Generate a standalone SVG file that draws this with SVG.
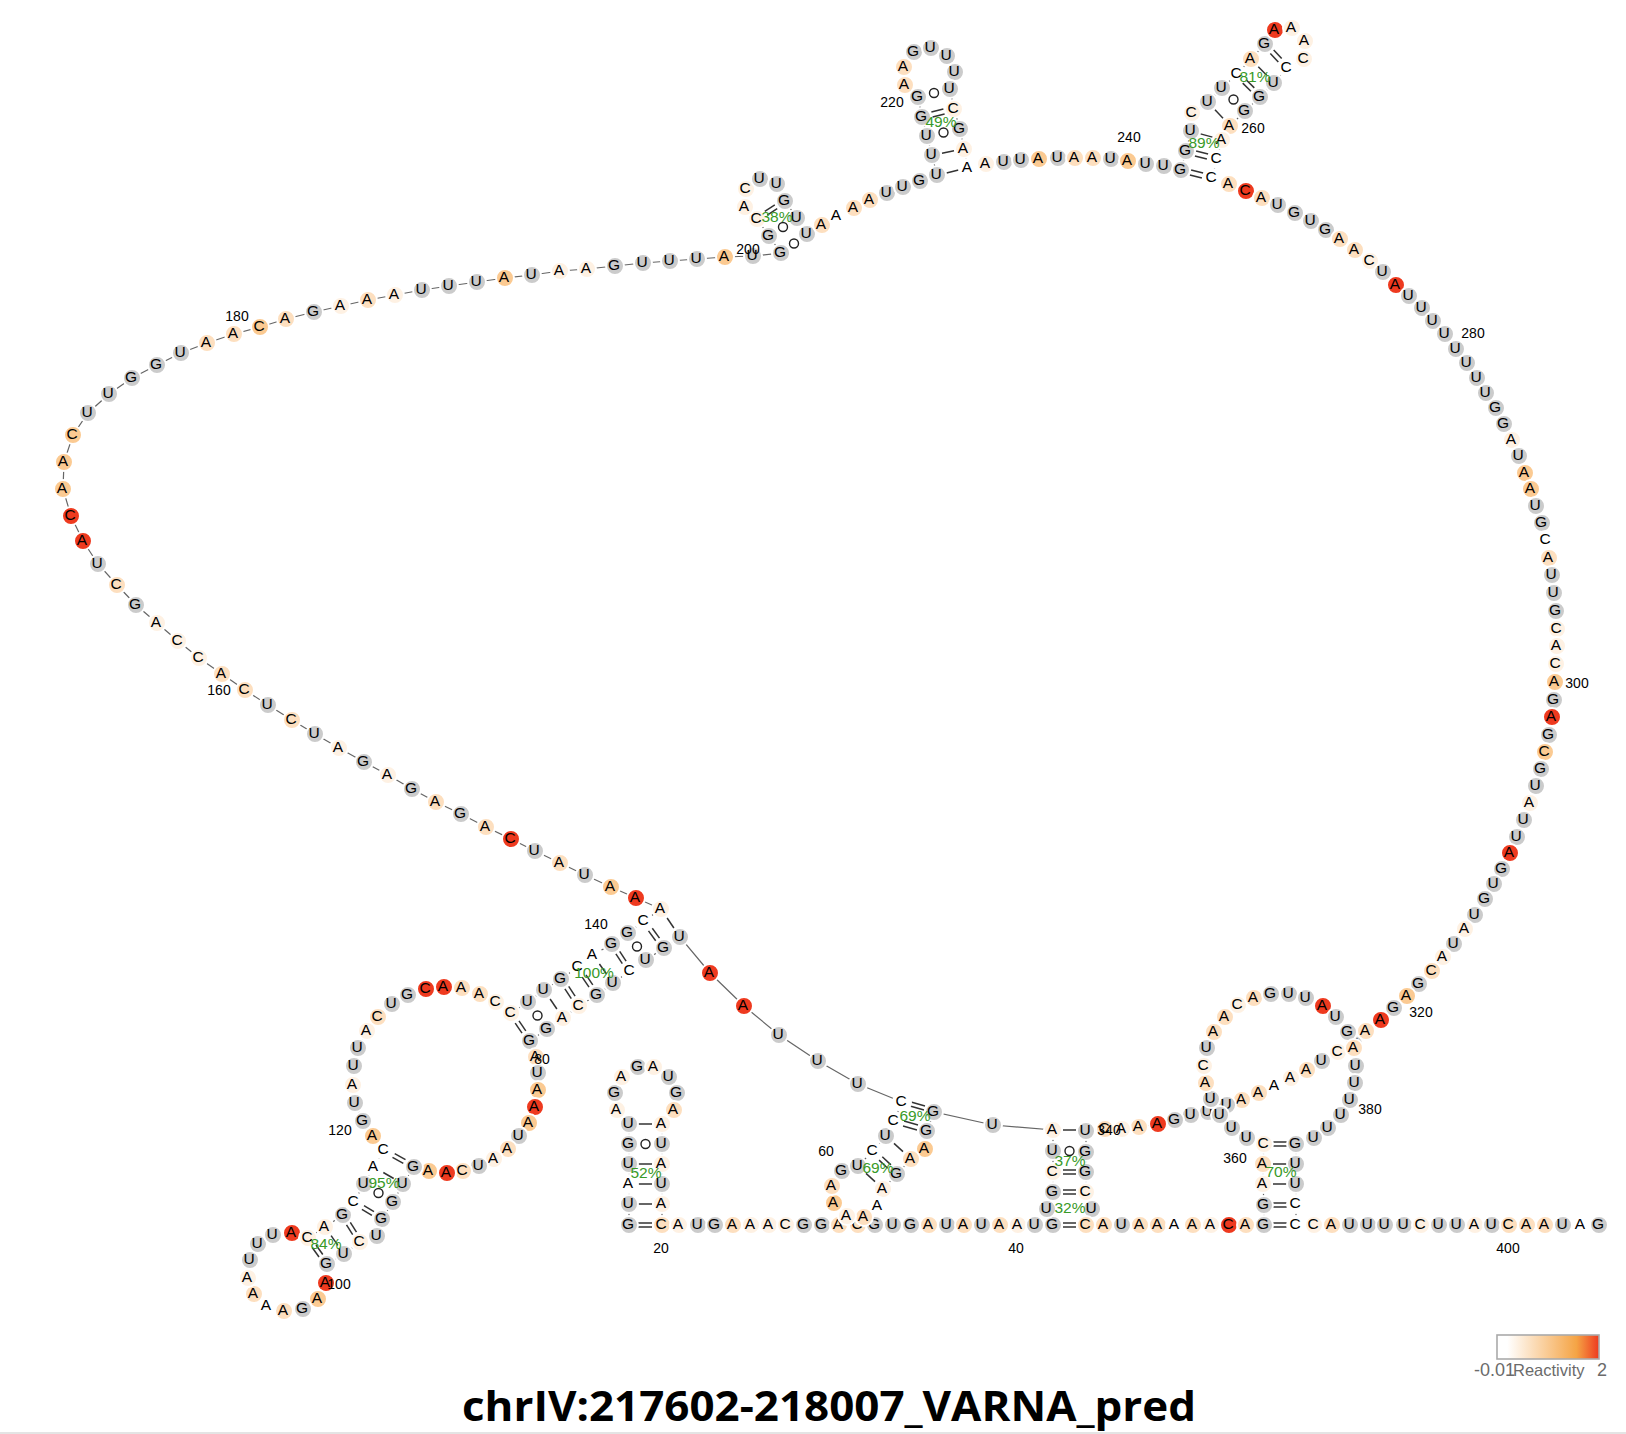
<svg xmlns="http://www.w3.org/2000/svg" width="1626" height="1434" viewBox="0 0 1626 1434">
<style>
text{font-family:"Liberation Sans",Arial,sans-serif}
.g circle,.w circle,.p circle,.l circle,.o circle,.r circle{stroke:#fff;stroke-width:2}
.g circle{fill:#cbcbcb}.w circle{fill:#fff}.p circle{fill:#fef1e3}.l circle{fill:#fddfbf}.o circle{fill:#fbca92}.r circle{fill:#ee3a1f}
#nodes text{font-size:15.5px;text-anchor:middle;fill:#000}
#bb{fill:none;stroke:#666;stroke-width:1.2}
#pairs line{stroke:#333;stroke-width:1.5}
#pairs circle{fill:#fff;stroke:#222;stroke-width:1.4}
.num{font-size:14px;text-anchor:middle;fill:#000}
.pct{font-size:15.5px;text-anchor:middle;fill:#389a28}
.leg{font-size:16.5px;fill:#6b6b6b}
</style>
<defs><linearGradient id="grad"><stop offset="0.1" stop-color="#fff"/><stop offset="0.78" stop-color="#f5a445"/><stop offset="1" stop-color="#ee3a1f"/></linearGradient></defs>
<g id="connectors" transform="translate(1 1)">
<polyline id="bb" points="628,1224 628,1203 628,1183 628,1163 628,1143 628,1123 616,1109 614,1092 621,1076 637,1066 653,1066 668,1076 676,1092 673,1109 661,1123 661,1143 661,1163 661,1183 661,1203 661,1224 678,1224 697,1224 714,1224 732,1224 750,1224 768,1224 785,1224 803,1224 821,1224 838,1224 857,1224 874,1224 892,1224 910,1224 928,1224 946,1224 963,1224 981,1224 999,1224 1017,1224 1034,1224 1052,1224 1046,1208 1052,1191 1052,1171 1052,1150 1052,1129 992,1124 933,1111 926,1130 924,1148 910,1158 896,1173 882,1188 877,1205 863,1216 846,1215 833,1202 831,1185 841,1170 857,1165 872,1150 885,1135 893,1120 901,1101 857,1083 817,1060 778,1034 743,1005 709,972 679,936 663,947 645,959 629,970 612,982 596,994 578,1005 562,1017 546,1028 529,1040 535,1056 537,1072 537,1089 534,1106 528,1122 518,1135 507,1148 493,1158 478,1165 462,1170 446,1172 428,1170 413,1166 402,1183 392,1201 381,1218 376,1235 359,1241 343,1253 326,1263 325,1282 317,1298 302,1308 283,1310 266,1305 253,1293 247,1277 249,1259 257,1243 272,1234 291,1232 307,1237 324,1226 342,1214 353,1201 363,1183 373,1166 383,1149 372,1135 362,1120 354,1102 352,1084 353,1065 357,1047 366,1030 377,1016 391,1003 407,994 425,988 443,986 461,987 479,993 495,1001 510,1012 527,1001 543,989 560,978 577,966 592,954 611,943 627,932 643,920 660,908 635,897 610,886 584,874 559,862 534,850 510,838 485,826 460,813 435,801 411,788 387,774 363,761 338,747 314,733 291,719 267,704 244,689 221,673 198,657 177,640 156,622 135,604 116,584 97,563 82,540 70,515 62,488 63,461 72,434 87,412 108,393 131,377 156,364 180,352 206,342 233,333 259,326 285,318 313,311 340,305 367,299 394,294 421,289 448,285 476,281 504,277 531,274 559,270 586,268 614,265 642,262 669,260 696,258 724,256 752,255 780,252 768,235 756,218 744,206 745,188 759,178 776,183 784,200 796,217 806,233 821,224 836,215 853,207 869,199 886,192 902,186 919,180 936,174 931,154 926,135 921,116 917,96 904,84 903,66 913,51 930,47 946,55 954,71 949,88 953,108 959,128 963,148 967,167 985,163 1003,161 1020,159 1038,158 1057,157 1074,157 1092,157 1110,158 1127,160 1145,163 1163,165 1180,169 1185,150 1190,130 1191,112 1207,101 1221,87 1236,73 1250,58 1264,43 1274,29 1291,27 1304,40 1303,58 1286,67 1273,82 1259,96 1244,110 1229,125 1221,139 1216,158 1211,177 1228,183 1245,190 1261,197 1277,204 1294,212 1310,220 1325,229 1339,238 1354,249 1369,260 1382,271 1395,284 1408,295 1421,307 1432,320 1444,333 1455,348 1466,362 1476,377 1485,392 1495,407 1503,423 1511,439 1518,455 1524,472 1530,488 1535,505 1541,522 1545,539 1548,557 1551,574 1553,592 1555,610 1556,628 1556,645 1555,663 1554,681 1553,699 1551,716 1548,734 1544,751 1540,768 1535,785 1529,802 1523,819 1516,836 1509,852 1501,868 1493,883 1484,898 1474,914 1464,928 1453,943 1442,956 1431,970 1418,983 1406,995 1393,1007 1380,1019 1365,1030 1353,1043 1337,1051 1321,1060 1306,1069 1290,1077 1274,1085 1258,1092 1241,1099 1226,1104 1207,1111 1190,1114 1174,1119 1157,1123 1138,1126 1121,1128 1104,1128 1085,1130 1085,1151 1085,1171 1085,1191 1091,1208 1085,1224 1103,1224 1121,1224 1139,1224 1157,1224 1174,1224 1192,1224 1210,1224 1228,1224 1245,1224 1263,1224 1263,1204 1262,1183 1262,1163 1263,1143 1246,1137 1231,1127 1219,1114 1210,1098 1205,1082 1203,1065 1206,1047 1213,1031 1224,1016 1237,1004 1253,997 1270,993 1288,993 1305,997 1322,1005 1335,1016 1347,1031 1353,1047 1355,1065 1354,1082 1349,1099 1340,1114 1327,1127 1313,1137 1295,1143 1295,1163 1295,1183 1295,1203 1295,1224 1313,1224 1331,1224 1349,1224 1367,1224 1384,1224 1403,1224 1420,1224 1438,1224 1456,1224 1474,1224 1491,1224 1508,1224 1526,1224 1544,1224 1562,1224 1580,1224 1598,1224"/>
<g id="pairs">
<line x1="637" y1="1222" x2="651" y2="1222"/><line x1="637" y1="1226" x2="651" y2="1226"/>
<line x1="637" y1="1203" x2="651" y2="1203"/><line x1="637" y1="1183" x2="651" y2="1183"/><line x1="637" y1="1163" x2="651" y2="1163"/>
<circle cx="644.5" cy="1143" r="4.5"/><line x1="637" y1="1123" x2="651" y2="1123"/>
<line x1="1062" y1="1222" x2="1075" y2="1222"/><line x1="1062" y1="1226" x2="1075" y2="1226"/>
<line x1="1062" y1="1189" x2="1075" y2="1189"/><line x1="1062" y1="1193" x2="1075" y2="1193"/>
<line x1="1062" y1="1169" x2="1075" y2="1169"/><line x1="1062" y1="1173" x2="1075" y2="1173"/>
<circle cx="1068.5" cy="1150" r="4.5"/><line x1="1062" y1="1129" x2="1075" y2="1129"/>
<line x1="1272" y1="1222" x2="1286" y2="1222"/><line x1="1272" y1="1226" x2="1286" y2="1226"/>
<line x1="1272" y1="1202" x2="1286" y2="1202"/><line x1="1272" y1="1206" x2="1286" y2="1206"/>
<line x1="1272" y1="1183" x2="1286" y2="1183"/><line x1="1272" y1="1163" x2="1286" y2="1163"/>
<line x1="1272" y1="1141" x2="1286" y2="1141"/><line x1="1272" y1="1145" x2="1286" y2="1145"/>
<line x1="393.7" y1="1152.6" x2="404.5" y2="1158.6"/><line x1="391.5" y1="1156.4" x2="402.3" y2="1162.4"/>
<line x1="382.3" y1="1171.5" x2="392.7" y2="1177.5"/><circle cx="377.5" cy="1192" r="4.5"/>
<line x1="363" y1="1204.6" x2="373" y2="1210.6"/><line x1="360.9" y1="1208.4" x2="370.9" y2="1214.4"/>
<line x1="349.3" y1="1221.4" x2="355.5" y2="1231.2"/><line x1="345.5" y1="1223.8" x2="351.7" y2="1233.6"/>
<line x1="330.1" y1="1234.6" x2="336.9" y2="1244.4"/>
<line x1="315" y1="1244" x2="321.8" y2="1253.5"/><line x1="311.2" y1="1246.5" x2="318" y2="1256"/>
<line x1="666.1" y1="917" x2="672.9" y2="927"/>
<line x1="651.3" y1="927.3" x2="658.5" y2="937.1"/><line x1="647.5" y1="929.9" x2="654.7" y2="939.7"/>
<circle cx="636" cy="945.5" r="4.5"/>
<line x1="618.7" y1="950.4" x2="625.1" y2="960.2"/><line x1="614.9" y1="952.8" x2="621.3" y2="962.6"/>
<line x1="598.4" y1="963" x2="605.6" y2="973"/>
<line x1="585" y1="973.8" x2="591.8" y2="983.8"/><line x1="581.2" y1="976.2" x2="588" y2="986.2"/>
<line x1="567.7" y1="985.4" x2="574.1" y2="995.2"/><line x1="563.9" y1="987.8" x2="570.3" y2="997.6"/>
<line x1="549.1" y1="998" x2="555.9" y2="1008"/><circle cx="536.5" cy="1014.5" r="4.5"/>
<line x1="518" y1="1019.8" x2="524.8" y2="1029.8"/><line x1="514.2" y1="1022.2" x2="521" y2="1032.2"/>
<line x1="910" y1="1101" x2="924" y2="1105"/><line x1="909" y1="1105" x2="923" y2="1109"/>
<line x1="903" y1="1120" x2="917" y2="1124"/><line x1="902" y1="1125" x2="916" y2="1129"/>
<line x1="893" y1="1142.4" x2="902" y2="1150.6"/>
<line x1="881.3" y1="1155.7" x2="889.9" y2="1163.9"/><line x1="878.1" y1="1159.1" x2="886.7" y2="1167.3"/>
<line x1="865" y1="1172.4" x2="874" y2="1180.6"/>
<circle cx="793" cy="242.5" r="4.5"/><circle cx="782" cy="226" r="4.5"/>
<line x1="766.2" y1="214.1" x2="776.2" y2="207.7"/><line x1="763.8" y1="210.3" x2="773.8" y2="203.9"/>
<line x1="945.5" y1="171.9" x2="957.5" y2="169.1"/><line x1="941" y1="152.2" x2="953" y2="149.8"/>
<circle cx="942.5" cy="131.5" r="4.5"/>
<line x1="931.6" y1="115.9" x2="943.6" y2="112.9"/><line x1="930.4" y1="111.1" x2="942.4" y2="108.1"/>
<circle cx="933" cy="92" r="4.5"/>
<line x1="1188.9" y1="173.9" x2="1200.9" y2="176.9"/><line x1="1190.1" y1="169.1" x2="1202.1" y2="172.1"/>
<line x1="1193.9" y1="154.9" x2="1205.9" y2="157.9"/><line x1="1195.1" y1="150.1" x2="1207.1" y2="153.1"/>
<line x1="1199.5" y1="132.9" x2="1211.5" y2="136.1"/><line x1="1214" y1="108.7" x2="1222" y2="117.3"/>
<circle cx="1232.5" cy="98.5" r="4.5"/>
<line x1="1245.1" y1="78.7" x2="1253.3" y2="86.9"/><line x1="1241.7" y1="82.1" x2="1249.9" y2="90.3"/>
<line x1="1257.3" y1="65.7" x2="1265.7" y2="74.3"/>
<line x1="1272.7" y1="49" x2="1280.7" y2="57.6"/><line x1="1269.3" y1="52.4" x2="1277.3" y2="61"/>
</g>
</g>
<g id="nodes">
<g id="n1" class="g" transform="translate(628 1224)"><circle cx="1" cy="1" r="9"/><text y="5">G</text></g>
<g id="n2" class="g" transform="translate(628 1203)"><circle cx="1" cy="1" r="9"/><text y="5">U</text></g>
<g id="n3" class="w" transform="translate(628 1183)"><circle cx="1" cy="1" r="9"/><text y="5">A</text></g>
<g id="n4" class="g" transform="translate(628 1163)"><circle cx="1" cy="1" r="9"/><text y="5">U</text></g>
<g id="n5" class="g" transform="translate(628 1143)"><circle cx="1" cy="1" r="9"/><text y="5">G</text></g>
<g id="n6" class="g" transform="translate(628 1123)"><circle cx="1" cy="1" r="9"/><text y="5">U</text></g>
<g id="n7" class="p" transform="translate(616 1109)"><circle cx="1" cy="1" r="9"/><text y="5">A</text></g>
<g id="n8" class="g" transform="translate(614 1092)"><circle cx="1" cy="1" r="9"/><text y="5">G</text></g>
<g id="n9" class="p" transform="translate(621 1076)"><circle cx="1" cy="1" r="9"/><text y="5">A</text></g>
<g id="n10" class="g" transform="translate(637 1066)"><circle cx="1" cy="1" r="9"/><text y="5">G</text></g>
<g id="n11" class="p" transform="translate(653 1066)"><circle cx="1" cy="1" r="9"/><text y="5">A</text></g>
<g id="n12" class="g" transform="translate(668 1076)"><circle cx="1" cy="1" r="9"/><text y="5">U</text></g>
<g id="n13" class="g" transform="translate(676 1092)"><circle cx="1" cy="1" r="9"/><text y="5">G</text></g>
<g id="n14" class="l" transform="translate(673 1109)"><circle cx="1" cy="1" r="9"/><text y="5">A</text></g>
<g id="n15" class="p" transform="translate(661 1123)"><circle cx="1" cy="1" r="9"/><text y="5">A</text></g>
<g id="n16" class="g" transform="translate(661 1143)"><circle cx="1" cy="1" r="9"/><text y="5">U</text></g>
<g id="n17" class="p" transform="translate(661 1163)"><circle cx="1" cy="1" r="9"/><text y="5">A</text></g>
<g id="n18" class="g" transform="translate(661 1183)"><circle cx="1" cy="1" r="9"/><text y="5">U</text></g>
<g id="n19" class="p" transform="translate(661 1203)"><circle cx="1" cy="1" r="9"/><text y="5">A</text></g>
<g id="n20" class="l" transform="translate(661 1224)"><circle cx="1" cy="1" r="9"/><text y="5">C</text></g>
<g id="n21" class="p" transform="translate(678 1224)"><circle cx="1" cy="1" r="9"/><text y="5">A</text></g>
<g id="n22" class="g" transform="translate(697 1224)"><circle cx="1" cy="1" r="9"/><text y="5">U</text></g>
<g id="n23" class="g" transform="translate(714 1224)"><circle cx="1" cy="1" r="9"/><text y="5">G</text></g>
<g id="n24" class="l" transform="translate(732 1224)"><circle cx="1" cy="1" r="9"/><text y="5">A</text></g>
<g id="n25" class="p" transform="translate(750 1224)"><circle cx="1" cy="1" r="9"/><text y="5">A</text></g>
<g id="n26" class="p" transform="translate(768 1224)"><circle cx="1" cy="1" r="9"/><text y="5">A</text></g>
<g id="n27" class="p" transform="translate(785 1224)"><circle cx="1" cy="1" r="9"/><text y="5">C</text></g>
<g id="n28" class="g" transform="translate(803 1224)"><circle cx="1" cy="1" r="9"/><text y="5">G</text></g>
<g id="n29" class="g" transform="translate(821 1224)"><circle cx="1" cy="1" r="9"/><text y="5">G</text></g>
<g id="n30" class="l" transform="translate(838 1224)"><circle cx="1" cy="1" r="9"/><text y="5">A</text></g>
<g id="n31" class="l" transform="translate(857 1224)"><circle cx="1" cy="1" r="9"/><text y="5">C</text></g>
<g id="n32" class="g" transform="translate(874 1224)"><circle cx="1" cy="1" r="9"/><text y="5">G</text></g>
<g id="n33" class="g" transform="translate(892 1224)"><circle cx="1" cy="1" r="9"/><text y="5">U</text></g>
<g id="n34" class="g" transform="translate(910 1224)"><circle cx="1" cy="1" r="9"/><text y="5">G</text></g>
<g id="n35" class="l" transform="translate(928 1224)"><circle cx="1" cy="1" r="9"/><text y="5">A</text></g>
<g id="n36" class="g" transform="translate(946 1224)"><circle cx="1" cy="1" r="9"/><text y="5">U</text></g>
<g id="n37" class="l" transform="translate(963 1224)"><circle cx="1" cy="1" r="9"/><text y="5">A</text></g>
<g id="n38" class="g" transform="translate(981 1224)"><circle cx="1" cy="1" r="9"/><text y="5">U</text></g>
<g id="n39" class="l" transform="translate(999 1224)"><circle cx="1" cy="1" r="9"/><text y="5">A</text></g>
<g id="n40" class="p" transform="translate(1017 1224)"><circle cx="1" cy="1" r="9"/><text y="5">A</text></g>
<g id="n41" class="g" transform="translate(1034 1224)"><circle cx="1" cy="1" r="9"/><text y="5">U</text></g>
<g id="n42" class="g" transform="translate(1052 1224)"><circle cx="1" cy="1" r="9"/><text y="5">G</text></g>
<g id="n43" class="g" transform="translate(1046 1208)"><circle cx="1" cy="1" r="9"/><text y="5">U</text></g>
<g id="n44" class="g" transform="translate(1052 1191)"><circle cx="1" cy="1" r="9"/><text y="5">G</text></g>
<g id="n45" class="p" transform="translate(1052 1171)"><circle cx="1" cy="1" r="9"/><text y="5">C</text></g>
<g id="n46" class="g" transform="translate(1052 1150)"><circle cx="1" cy="1" r="9"/><text y="5">U</text></g>
<g id="n47" class="p" transform="translate(1052 1129)"><circle cx="1" cy="1" r="9"/><text y="5">A</text></g>
<g id="n48" class="g" transform="translate(992 1124)"><circle cx="1" cy="1" r="9"/><text y="5">U</text></g>
<g id="n49" class="g" transform="translate(933 1111)"><circle cx="1" cy="1" r="9"/><text y="5">G</text></g>
<g id="n50" class="g" transform="translate(926 1130)"><circle cx="1" cy="1" r="9"/><text y="5">G</text></g>
<g id="n51" class="o" transform="translate(924 1148)"><circle cx="1" cy="1" r="9"/><text y="5">A</text></g>
<g id="n52" class="l" transform="translate(910 1158)"><circle cx="1" cy="1" r="9"/><text y="5">A</text></g>
<g id="n53" class="g" transform="translate(896 1173)"><circle cx="1" cy="1" r="9"/><text y="5">G</text></g>
<g id="n54" class="p" transform="translate(882 1188)"><circle cx="1" cy="1" r="9"/><text y="5">A</text></g>
<g id="n55" class="w" transform="translate(877 1205)"><circle cx="1" cy="1" r="9"/><text y="5">A</text></g>
<g id="n56" class="l" transform="translate(863 1216)"><circle cx="1" cy="1" r="9"/><text y="5">A</text></g>
<g id="n57" class="p" transform="translate(846 1215)"><circle cx="1" cy="1" r="9"/><text y="5">A</text></g>
<g id="n58" class="o" transform="translate(833 1202)"><circle cx="1" cy="1" r="9"/><text y="5">A</text></g>
<g id="n59" class="l" transform="translate(831 1185)"><circle cx="1" cy="1" r="9"/><text y="5">A</text></g>
<g id="n60" class="g" transform="translate(841 1170)"><circle cx="1" cy="1" r="9"/><text y="5">G</text></g>
<g id="n61" class="g" transform="translate(857 1165)"><circle cx="1" cy="1" r="9"/><text y="5">U</text></g>
<g id="n62" class="w" transform="translate(872 1150)"><circle cx="1" cy="1" r="9"/><text y="5">C</text></g>
<g id="n63" class="g" transform="translate(885 1135)"><circle cx="1" cy="1" r="9"/><text y="5">U</text></g>
<g id="n64" class="w" transform="translate(893 1120)"><circle cx="1" cy="1" r="9"/><text y="5">C</text></g>
<g id="n65" class="w" transform="translate(901 1101)"><circle cx="1" cy="1" r="9"/><text y="5">C</text></g>
<g id="n66" class="g" transform="translate(857 1083)"><circle cx="1" cy="1" r="9"/><text y="5">U</text></g>
<g id="n67" class="g" transform="translate(817 1060)"><circle cx="1" cy="1" r="9"/><text y="5">U</text></g>
<g id="n68" class="g" transform="translate(778 1034)"><circle cx="1" cy="1" r="9"/><text y="5">U</text></g>
<g id="n69" class="r" transform="translate(743 1005)"><circle cx="1" cy="1" r="9"/><text y="5">A</text></g>
<g id="n70" class="r" transform="translate(709 972)"><circle cx="1" cy="1" r="9"/><text y="5">A</text></g>
<g id="n71" class="g" transform="translate(679 936)"><circle cx="1" cy="1" r="9"/><text y="5">U</text></g>
<g id="n72" class="g" transform="translate(663 947)"><circle cx="1" cy="1" r="9"/><text y="5">G</text></g>
<g id="n73" class="g" transform="translate(645 959)"><circle cx="1" cy="1" r="9"/><text y="5">U</text></g>
<g id="n74" class="w" transform="translate(629 970)"><circle cx="1" cy="1" r="9"/><text y="5">C</text></g>
<g id="n75" class="g" transform="translate(612 982)"><circle cx="1" cy="1" r="9"/><text y="5">U</text></g>
<g id="n76" class="g" transform="translate(596 994)"><circle cx="1" cy="1" r="9"/><text y="5">G</text></g>
<g id="n77" class="p" transform="translate(578 1005)"><circle cx="1" cy="1" r="9"/><text y="5">C</text></g>
<g id="n78" class="p" transform="translate(562 1017)"><circle cx="1" cy="1" r="9"/><text y="5">A</text></g>
<g id="n79" class="g" transform="translate(546 1028)"><circle cx="1" cy="1" r="9"/><text y="5">G</text></g>
<g id="n80" class="g" transform="translate(529 1040)"><circle cx="1" cy="1" r="9"/><text y="5">G</text></g>
<g id="n81" class="l" transform="translate(535 1056)"><circle cx="1" cy="1" r="9"/><text y="5">A</text></g>
<g id="n82" class="g" transform="translate(537 1072)"><circle cx="1" cy="1" r="9"/><text y="5">U</text></g>
<g id="n83" class="o" transform="translate(537 1089)"><circle cx="1" cy="1" r="9"/><text y="5">A</text></g>
<g id="n84" class="r" transform="translate(534 1106)"><circle cx="1" cy="1" r="9"/><text y="5">A</text></g>
<g id="n85" class="o" transform="translate(528 1122)"><circle cx="1" cy="1" r="9"/><text y="5">A</text></g>
<g id="n86" class="g" transform="translate(518 1135)"><circle cx="1" cy="1" r="9"/><text y="5">U</text></g>
<g id="n87" class="l" transform="translate(507 1148)"><circle cx="1" cy="1" r="9"/><text y="5">A</text></g>
<g id="n88" class="p" transform="translate(493 1158)"><circle cx="1" cy="1" r="9"/><text y="5">A</text></g>
<g id="n89" class="g" transform="translate(478 1165)"><circle cx="1" cy="1" r="9"/><text y="5">U</text></g>
<g id="n90" class="l" transform="translate(462 1170)"><circle cx="1" cy="1" r="9"/><text y="5">C</text></g>
<g id="n91" class="r" transform="translate(446 1172)"><circle cx="1" cy="1" r="9"/><text y="5">A</text></g>
<g id="n92" class="o" transform="translate(428 1170)"><circle cx="1" cy="1" r="9"/><text y="5">A</text></g>
<g id="n93" class="g" transform="translate(413 1166)"><circle cx="1" cy="1" r="9"/><text y="5">G</text></g>
<g id="n94" class="g" transform="translate(402 1183)"><circle cx="1" cy="1" r="9"/><text y="5">U</text></g>
<g id="n95" class="g" transform="translate(392 1201)"><circle cx="1" cy="1" r="9"/><text y="5">G</text></g>
<g id="n96" class="g" transform="translate(381 1218)"><circle cx="1" cy="1" r="9"/><text y="5">G</text></g>
<g id="n97" class="g" transform="translate(376 1235)"><circle cx="1" cy="1" r="9"/><text y="5">U</text></g>
<g id="n98" class="p" transform="translate(359 1241)"><circle cx="1" cy="1" r="9"/><text y="5">C</text></g>
<g id="n99" class="g" transform="translate(343 1253)"><circle cx="1" cy="1" r="9"/><text y="5">U</text></g>
<g id="n100" class="g" transform="translate(326 1263)"><circle cx="1" cy="1" r="9"/><text y="5">G</text></g>
<g id="n101" class="r" transform="translate(325 1282)"><circle cx="1" cy="1" r="9"/><text y="5">A</text></g>
<g id="n102" class="o" transform="translate(317 1298)"><circle cx="1" cy="1" r="9"/><text y="5">A</text></g>
<g id="n103" class="g" transform="translate(302 1308)"><circle cx="1" cy="1" r="9"/><text y="5">G</text></g>
<g id="n104" class="l" transform="translate(283 1310)"><circle cx="1" cy="1" r="9"/><text y="5">A</text></g>
<g id="n105" class="w" transform="translate(266 1305)"><circle cx="1" cy="1" r="9"/><text y="5">A</text></g>
<g id="n106" class="l" transform="translate(253 1293)"><circle cx="1" cy="1" r="9"/><text y="5">A</text></g>
<g id="n107" class="p" transform="translate(247 1277)"><circle cx="1" cy="1" r="9"/><text y="5">A</text></g>
<g id="n108" class="g" transform="translate(249 1259)"><circle cx="1" cy="1" r="9"/><text y="5">U</text></g>
<g id="n109" class="g" transform="translate(257 1243)"><circle cx="1" cy="1" r="9"/><text y="5">U</text></g>
<g id="n110" class="g" transform="translate(272 1234)"><circle cx="1" cy="1" r="9"/><text y="5">U</text></g>
<g id="n111" class="r" transform="translate(291 1232)"><circle cx="1" cy="1" r="9"/><text y="5">A</text></g>
<g id="n112" class="p" transform="translate(307 1237)"><circle cx="1" cy="1" r="9"/><text y="5">C</text></g>
<g id="n113" class="p" transform="translate(324 1226)"><circle cx="1" cy="1" r="9"/><text y="5">A</text></g>
<g id="n114" class="g" transform="translate(342 1214)"><circle cx="1" cy="1" r="9"/><text y="5">G</text></g>
<g id="n115" class="w" transform="translate(353 1201)"><circle cx="1" cy="1" r="9"/><text y="5">C</text></g>
<g id="n116" class="g" transform="translate(363 1183)"><circle cx="1" cy="1" r="9"/><text y="5">U</text></g>
<g id="n117" class="w" transform="translate(373 1166)"><circle cx="1" cy="1" r="9"/><text y="5">A</text></g>
<g id="n118" class="w" transform="translate(383 1149)"><circle cx="1" cy="1" r="9"/><text y="5">C</text></g>
<g id="n119" class="o" transform="translate(372 1135)"><circle cx="1" cy="1" r="9"/><text y="5">A</text></g>
<g id="n120" class="g" transform="translate(362 1120)"><circle cx="1" cy="1" r="9"/><text y="5">G</text></g>
<g id="n121" class="g" transform="translate(354 1102)"><circle cx="1" cy="1" r="9"/><text y="5">U</text></g>
<g id="n122" class="p" transform="translate(352 1084)"><circle cx="1" cy="1" r="9"/><text y="5">A</text></g>
<g id="n123" class="g" transform="translate(353 1065)"><circle cx="1" cy="1" r="9"/><text y="5">U</text></g>
<g id="n124" class="g" transform="translate(357 1047)"><circle cx="1" cy="1" r="9"/><text y="5">U</text></g>
<g id="n125" class="p" transform="translate(366 1030)"><circle cx="1" cy="1" r="9"/><text y="5">A</text></g>
<g id="n126" class="l" transform="translate(377 1016)"><circle cx="1" cy="1" r="9"/><text y="5">C</text></g>
<g id="n127" class="g" transform="translate(391 1003)"><circle cx="1" cy="1" r="9"/><text y="5">U</text></g>
<g id="n128" class="g" transform="translate(407 994)"><circle cx="1" cy="1" r="9"/><text y="5">G</text></g>
<g id="n129" class="r" transform="translate(425 988)"><circle cx="1" cy="1" r="9"/><text y="5">C</text></g>
<g id="n130" class="r" transform="translate(443 986)"><circle cx="1" cy="1" r="9"/><text y="5">A</text></g>
<g id="n131" class="l" transform="translate(461 987)"><circle cx="1" cy="1" r="9"/><text y="5">A</text></g>
<g id="n132" class="l" transform="translate(479 993)"><circle cx="1" cy="1" r="9"/><text y="5">A</text></g>
<g id="n133" class="p" transform="translate(495 1001)"><circle cx="1" cy="1" r="9"/><text y="5">C</text></g>
<g id="n134" class="p" transform="translate(510 1012)"><circle cx="1" cy="1" r="9"/><text y="5">C</text></g>
<g id="n135" class="g" transform="translate(527 1001)"><circle cx="1" cy="1" r="9"/><text y="5">U</text></g>
<g id="n136" class="g" transform="translate(543 989)"><circle cx="1" cy="1" r="9"/><text y="5">U</text></g>
<g id="n137" class="g" transform="translate(560 978)"><circle cx="1" cy="1" r="9"/><text y="5">G</text></g>
<g id="n138" class="w" transform="translate(577 966)"><circle cx="1" cy="1" r="9"/><text y="5">C</text></g>
<g id="n139" class="w" transform="translate(592 954)"><circle cx="1" cy="1" r="9"/><text y="5">A</text></g>
<g id="n140" class="g" transform="translate(611 943)"><circle cx="1" cy="1" r="9"/><text y="5">G</text></g>
<g id="n141" class="g" transform="translate(627 932)"><circle cx="1" cy="1" r="9"/><text y="5">G</text></g>
<g id="n142" class="w" transform="translate(643 920)"><circle cx="1" cy="1" r="9"/><text y="5">C</text></g>
<g id="n143" class="p" transform="translate(660 908)"><circle cx="1" cy="1" r="9"/><text y="5">A</text></g>
<g id="n144" class="r" transform="translate(635 897)"><circle cx="1" cy="1" r="9"/><text y="5">A</text></g>
<g id="n145" class="o" transform="translate(610 886)"><circle cx="1" cy="1" r="9"/><text y="5">A</text></g>
<g id="n146" class="g" transform="translate(584 874)"><circle cx="1" cy="1" r="9"/><text y="5">U</text></g>
<g id="n147" class="l" transform="translate(559 862)"><circle cx="1" cy="1" r="9"/><text y="5">A</text></g>
<g id="n148" class="g" transform="translate(534 850)"><circle cx="1" cy="1" r="9"/><text y="5">U</text></g>
<g id="n149" class="r" transform="translate(510 838)"><circle cx="1" cy="1" r="9"/><text y="5">C</text></g>
<g id="n150" class="l" transform="translate(485 826)"><circle cx="1" cy="1" r="9"/><text y="5">A</text></g>
<g id="n151" class="g" transform="translate(460 813)"><circle cx="1" cy="1" r="9"/><text y="5">G</text></g>
<g id="n152" class="l" transform="translate(435 801)"><circle cx="1" cy="1" r="9"/><text y="5">A</text></g>
<g id="n153" class="g" transform="translate(411 788)"><circle cx="1" cy="1" r="9"/><text y="5">G</text></g>
<g id="n154" class="p" transform="translate(387 774)"><circle cx="1" cy="1" r="9"/><text y="5">A</text></g>
<g id="n155" class="g" transform="translate(363 761)"><circle cx="1" cy="1" r="9"/><text y="5">G</text></g>
<g id="n156" class="p" transform="translate(338 747)"><circle cx="1" cy="1" r="9"/><text y="5">A</text></g>
<g id="n157" class="g" transform="translate(314 733)"><circle cx="1" cy="1" r="9"/><text y="5">U</text></g>
<g id="n158" class="l" transform="translate(291 719)"><circle cx="1" cy="1" r="9"/><text y="5">C</text></g>
<g id="n159" class="g" transform="translate(267 704)"><circle cx="1" cy="1" r="9"/><text y="5">U</text></g>
<g id="n160" class="l" transform="translate(244 689)"><circle cx="1" cy="1" r="9"/><text y="5">C</text></g>
<g id="n161" class="l" transform="translate(221 673)"><circle cx="1" cy="1" r="9"/><text y="5">A</text></g>
<g id="n162" class="p" transform="translate(198 657)"><circle cx="1" cy="1" r="9"/><text y="5">C</text></g>
<g id="n163" class="p" transform="translate(177 640)"><circle cx="1" cy="1" r="9"/><text y="5">C</text></g>
<g id="n164" class="p" transform="translate(156 622)"><circle cx="1" cy="1" r="9"/><text y="5">A</text></g>
<g id="n165" class="g" transform="translate(135 604)"><circle cx="1" cy="1" r="9"/><text y="5">G</text></g>
<g id="n166" class="l" transform="translate(116 584)"><circle cx="1" cy="1" r="9"/><text y="5">C</text></g>
<g id="n167" class="g" transform="translate(97 563)"><circle cx="1" cy="1" r="9"/><text y="5">U</text></g>
<g id="n168" class="r" transform="translate(82 540)"><circle cx="1" cy="1" r="9"/><text y="5">A</text></g>
<g id="n169" class="r" transform="translate(70 515)"><circle cx="1" cy="1" r="9"/><text y="5">C</text></g>
<g id="n170" class="o" transform="translate(62 488)"><circle cx="1" cy="1" r="9"/><text y="5">A</text></g>
<g id="n171" class="o" transform="translate(63 461)"><circle cx="1" cy="1" r="9"/><text y="5">A</text></g>
<g id="n172" class="o" transform="translate(72 434)"><circle cx="1" cy="1" r="9"/><text y="5">C</text></g>
<g id="n173" class="g" transform="translate(87 412)"><circle cx="1" cy="1" r="9"/><text y="5">U</text></g>
<g id="n174" class="g" transform="translate(108 393)"><circle cx="1" cy="1" r="9"/><text y="5">U</text></g>
<g id="n175" class="g" transform="translate(131 377)"><circle cx="1" cy="1" r="9"/><text y="5">G</text></g>
<g id="n176" class="g" transform="translate(156 364)"><circle cx="1" cy="1" r="9"/><text y="5">G</text></g>
<g id="n177" class="g" transform="translate(180 352)"><circle cx="1" cy="1" r="9"/><text y="5">U</text></g>
<g id="n178" class="l" transform="translate(206 342)"><circle cx="1" cy="1" r="9"/><text y="5">A</text></g>
<g id="n179" class="l" transform="translate(233 333)"><circle cx="1" cy="1" r="9"/><text y="5">A</text></g>
<g id="n180" class="o" transform="translate(259 326)"><circle cx="1" cy="1" r="9"/><text y="5">C</text></g>
<g id="n181" class="l" transform="translate(285 318)"><circle cx="1" cy="1" r="9"/><text y="5">A</text></g>
<g id="n182" class="g" transform="translate(313 311)"><circle cx="1" cy="1" r="9"/><text y="5">G</text></g>
<g id="n183" class="p" transform="translate(340 305)"><circle cx="1" cy="1" r="9"/><text y="5">A</text></g>
<g id="n184" class="l" transform="translate(367 299)"><circle cx="1" cy="1" r="9"/><text y="5">A</text></g>
<g id="n185" class="p" transform="translate(394 294)"><circle cx="1" cy="1" r="9"/><text y="5">A</text></g>
<g id="n186" class="g" transform="translate(421 289)"><circle cx="1" cy="1" r="9"/><text y="5">U</text></g>
<g id="n187" class="g" transform="translate(448 285)"><circle cx="1" cy="1" r="9"/><text y="5">U</text></g>
<g id="n188" class="g" transform="translate(476 281)"><circle cx="1" cy="1" r="9"/><text y="5">U</text></g>
<g id="n189" class="o" transform="translate(504 277)"><circle cx="1" cy="1" r="9"/><text y="5">A</text></g>
<g id="n190" class="g" transform="translate(531 274)"><circle cx="1" cy="1" r="9"/><text y="5">U</text></g>
<g id="n191" class="p" transform="translate(559 270)"><circle cx="1" cy="1" r="9"/><text y="5">A</text></g>
<g id="n192" class="p" transform="translate(586 268)"><circle cx="1" cy="1" r="9"/><text y="5">A</text></g>
<g id="n193" class="g" transform="translate(614 265)"><circle cx="1" cy="1" r="9"/><text y="5">G</text></g>
<g id="n194" class="g" transform="translate(642 262)"><circle cx="1" cy="1" r="9"/><text y="5">U</text></g>
<g id="n195" class="g" transform="translate(669 260)"><circle cx="1" cy="1" r="9"/><text y="5">U</text></g>
<g id="n196" class="g" transform="translate(696 258)"><circle cx="1" cy="1" r="9"/><text y="5">U</text></g>
<g id="n197" class="o" transform="translate(724 256)"><circle cx="1" cy="1" r="9"/><text y="5">A</text></g>
<g id="n198" class="g" transform="translate(752 255)"><circle cx="1" cy="1" r="9"/><text y="5">U</text></g>
<g id="n199" class="g" transform="translate(780 252)"><circle cx="1" cy="1" r="9"/><text y="5">G</text></g>
<g id="n200" class="g" transform="translate(768 235)"><circle cx="1" cy="1" r="9"/><text y="5">G</text></g>
<g id="n201" class="p" transform="translate(756 218)"><circle cx="1" cy="1" r="9"/><text y="5">C</text></g>
<g id="n202" class="p" transform="translate(744 206)"><circle cx="1" cy="1" r="9"/><text y="5">A</text></g>
<g id="n203" class="p" transform="translate(745 188)"><circle cx="1" cy="1" r="9"/><text y="5">C</text></g>
<g id="n204" class="g" transform="translate(759 178)"><circle cx="1" cy="1" r="9"/><text y="5">U</text></g>
<g id="n205" class="g" transform="translate(776 183)"><circle cx="1" cy="1" r="9"/><text y="5">U</text></g>
<g id="n206" class="g" transform="translate(784 200)"><circle cx="1" cy="1" r="9"/><text y="5">G</text></g>
<g id="n207" class="g" transform="translate(796 217)"><circle cx="1" cy="1" r="9"/><text y="5">U</text></g>
<g id="n208" class="g" transform="translate(806 233)"><circle cx="1" cy="1" r="9"/><text y="5">U</text></g>
<g id="n209" class="l" transform="translate(821 224)"><circle cx="1" cy="1" r="9"/><text y="5">A</text></g>
<g id="n210" class="w" transform="translate(836 215)"><circle cx="1" cy="1" r="9"/><text y="5">A</text></g>
<g id="n211" class="l" transform="translate(853 207)"><circle cx="1" cy="1" r="9"/><text y="5">A</text></g>
<g id="n212" class="l" transform="translate(869 199)"><circle cx="1" cy="1" r="9"/><text y="5">A</text></g>
<g id="n213" class="g" transform="translate(886 192)"><circle cx="1" cy="1" r="9"/><text y="5">U</text></g>
<g id="n214" class="g" transform="translate(902 186)"><circle cx="1" cy="1" r="9"/><text y="5">U</text></g>
<g id="n215" class="g" transform="translate(919 180)"><circle cx="1" cy="1" r="9"/><text y="5">G</text></g>
<g id="n216" class="g" transform="translate(936 174)"><circle cx="1" cy="1" r="9"/><text y="5">U</text></g>
<g id="n217" class="g" transform="translate(931 154)"><circle cx="1" cy="1" r="9"/><text y="5">U</text></g>
<g id="n218" class="g" transform="translate(926 135)"><circle cx="1" cy="1" r="9"/><text y="5">U</text></g>
<g id="n219" class="g" transform="translate(921 116)"><circle cx="1" cy="1" r="9"/><text y="5">G</text></g>
<g id="n220" class="g" transform="translate(917 96)"><circle cx="1" cy="1" r="9"/><text y="5">G</text></g>
<g id="n221" class="l" transform="translate(904 84)"><circle cx="1" cy="1" r="9"/><text y="5">A</text></g>
<g id="n222" class="l" transform="translate(903 66)"><circle cx="1" cy="1" r="9"/><text y="5">A</text></g>
<g id="n223" class="g" transform="translate(913 51)"><circle cx="1" cy="1" r="9"/><text y="5">G</text></g>
<g id="n224" class="g" transform="translate(930 47)"><circle cx="1" cy="1" r="9"/><text y="5">U</text></g>
<g id="n225" class="g" transform="translate(946 55)"><circle cx="1" cy="1" r="9"/><text y="5">U</text></g>
<g id="n226" class="g" transform="translate(954 71)"><circle cx="1" cy="1" r="9"/><text y="5">U</text></g>
<g id="n227" class="g" transform="translate(949 88)"><circle cx="1" cy="1" r="9"/><text y="5">U</text></g>
<g id="n228" class="p" transform="translate(953 108)"><circle cx="1" cy="1" r="9"/><text y="5">C</text></g>
<g id="n229" class="g" transform="translate(959 128)"><circle cx="1" cy="1" r="9"/><text y="5">G</text></g>
<g id="n230" class="p" transform="translate(963 148)"><circle cx="1" cy="1" r="9"/><text y="5">A</text></g>
<g id="n231" class="w" transform="translate(967 167)"><circle cx="1" cy="1" r="9"/><text y="5">A</text></g>
<g id="n232" class="p" transform="translate(985 163)"><circle cx="1" cy="1" r="9"/><text y="5">A</text></g>
<g id="n233" class="g" transform="translate(1003 161)"><circle cx="1" cy="1" r="9"/><text y="5">U</text></g>
<g id="n234" class="g" transform="translate(1020 159)"><circle cx="1" cy="1" r="9"/><text y="5">U</text></g>
<g id="n235" class="o" transform="translate(1038 158)"><circle cx="1" cy="1" r="9"/><text y="5">A</text></g>
<g id="n236" class="g" transform="translate(1057 157)"><circle cx="1" cy="1" r="9"/><text y="5">U</text></g>
<g id="n237" class="l" transform="translate(1074 157)"><circle cx="1" cy="1" r="9"/><text y="5">A</text></g>
<g id="n238" class="l" transform="translate(1092 157)"><circle cx="1" cy="1" r="9"/><text y="5">A</text></g>
<g id="n239" class="g" transform="translate(1110 158)"><circle cx="1" cy="1" r="9"/><text y="5">U</text></g>
<g id="n240" class="o" transform="translate(1127 160)"><circle cx="1" cy="1" r="9"/><text y="5">A</text></g>
<g id="n241" class="g" transform="translate(1145 163)"><circle cx="1" cy="1" r="9"/><text y="5">U</text></g>
<g id="n242" class="g" transform="translate(1163 165)"><circle cx="1" cy="1" r="9"/><text y="5">U</text></g>
<g id="n243" class="g" transform="translate(1180 169)"><circle cx="1" cy="1" r="9"/><text y="5">G</text></g>
<g id="n244" class="g" transform="translate(1185 150)"><circle cx="1" cy="1" r="9"/><text y="5">G</text></g>
<g id="n245" class="g" transform="translate(1190 130)"><circle cx="1" cy="1" r="9"/><text y="5">U</text></g>
<g id="n246" class="p" transform="translate(1191 112)"><circle cx="1" cy="1" r="9"/><text y="5">C</text></g>
<g id="n247" class="g" transform="translate(1207 101)"><circle cx="1" cy="1" r="9"/><text y="5">U</text></g>
<g id="n248" class="g" transform="translate(1221 87)"><circle cx="1" cy="1" r="9"/><text y="5">U</text></g>
<g id="n249" class="w" transform="translate(1236 73)"><circle cx="1" cy="1" r="9"/><text y="5">C</text></g>
<g id="n250" class="l" transform="translate(1250 58)"><circle cx="1" cy="1" r="9"/><text y="5">A</text></g>
<g id="n251" class="g" transform="translate(1264 43)"><circle cx="1" cy="1" r="9"/><text y="5">G</text></g>
<g id="n252" class="r" transform="translate(1274 29)"><circle cx="1" cy="1" r="9"/><text y="5">A</text></g>
<g id="n253" class="p" transform="translate(1291 27)"><circle cx="1" cy="1" r="9"/><text y="5">A</text></g>
<g id="n254" class="p" transform="translate(1304 40)"><circle cx="1" cy="1" r="9"/><text y="5">A</text></g>
<g id="n255" class="p" transform="translate(1303 58)"><circle cx="1" cy="1" r="9"/><text y="5">C</text></g>
<g id="n256" class="w" transform="translate(1286 67)"><circle cx="1" cy="1" r="9"/><text y="5">C</text></g>
<g id="n257" class="g" transform="translate(1273 82)"><circle cx="1" cy="1" r="9"/><text y="5">U</text></g>
<g id="n258" class="g" transform="translate(1259 96)"><circle cx="1" cy="1" r="9"/><text y="5">G</text></g>
<g id="n259" class="g" transform="translate(1244 110)"><circle cx="1" cy="1" r="9"/><text y="5">G</text></g>
<g id="n260" class="l" transform="translate(1229 125)"><circle cx="1" cy="1" r="9"/><text y="5">A</text></g>
<g id="n261" class="p" transform="translate(1221 139)"><circle cx="1" cy="1" r="9"/><text y="5">A</text></g>
<g id="n262" class="w" transform="translate(1216 158)"><circle cx="1" cy="1" r="9"/><text y="5">C</text></g>
<g id="n263" class="w" transform="translate(1211 177)"><circle cx="1" cy="1" r="9"/><text y="5">C</text></g>
<g id="n264" class="l" transform="translate(1228 183)"><circle cx="1" cy="1" r="9"/><text y="5">A</text></g>
<g id="n265" class="r" transform="translate(1245 190)"><circle cx="1" cy="1" r="9"/><text y="5">C</text></g>
<g id="n266" class="l" transform="translate(1261 197)"><circle cx="1" cy="1" r="9"/><text y="5">A</text></g>
<g id="n267" class="g" transform="translate(1277 204)"><circle cx="1" cy="1" r="9"/><text y="5">U</text></g>
<g id="n268" class="g" transform="translate(1294 212)"><circle cx="1" cy="1" r="9"/><text y="5">G</text></g>
<g id="n269" class="g" transform="translate(1310 220)"><circle cx="1" cy="1" r="9"/><text y="5">U</text></g>
<g id="n270" class="g" transform="translate(1325 229)"><circle cx="1" cy="1" r="9"/><text y="5">G</text></g>
<g id="n271" class="l" transform="translate(1339 238)"><circle cx="1" cy="1" r="9"/><text y="5">A</text></g>
<g id="n272" class="l" transform="translate(1354 249)"><circle cx="1" cy="1" r="9"/><text y="5">A</text></g>
<g id="n273" class="p" transform="translate(1369 260)"><circle cx="1" cy="1" r="9"/><text y="5">C</text></g>
<g id="n274" class="g" transform="translate(1382 271)"><circle cx="1" cy="1" r="9"/><text y="5">U</text></g>
<g id="n275" class="r" transform="translate(1395 284)"><circle cx="1" cy="1" r="9"/><text y="5">A</text></g>
<g id="n276" class="g" transform="translate(1408 295)"><circle cx="1" cy="1" r="9"/><text y="5">U</text></g>
<g id="n277" class="g" transform="translate(1421 307)"><circle cx="1" cy="1" r="9"/><text y="5">U</text></g>
<g id="n278" class="g" transform="translate(1432 320)"><circle cx="1" cy="1" r="9"/><text y="5">U</text></g>
<g id="n279" class="g" transform="translate(1444 333)"><circle cx="1" cy="1" r="9"/><text y="5">U</text></g>
<g id="n280" class="g" transform="translate(1455 348)"><circle cx="1" cy="1" r="9"/><text y="5">U</text></g>
<g id="n281" class="g" transform="translate(1466 362)"><circle cx="1" cy="1" r="9"/><text y="5">U</text></g>
<g id="n282" class="g" transform="translate(1476 377)"><circle cx="1" cy="1" r="9"/><text y="5">U</text></g>
<g id="n283" class="g" transform="translate(1485 392)"><circle cx="1" cy="1" r="9"/><text y="5">U</text></g>
<g id="n284" class="g" transform="translate(1495 407)"><circle cx="1" cy="1" r="9"/><text y="5">G</text></g>
<g id="n285" class="g" transform="translate(1503 423)"><circle cx="1" cy="1" r="9"/><text y="5">G</text></g>
<g id="n286" class="p" transform="translate(1511 439)"><circle cx="1" cy="1" r="9"/><text y="5">A</text></g>
<g id="n287" class="g" transform="translate(1518 455)"><circle cx="1" cy="1" r="9"/><text y="5">U</text></g>
<g id="n288" class="o" transform="translate(1524 472)"><circle cx="1" cy="1" r="9"/><text y="5">A</text></g>
<g id="n289" class="o" transform="translate(1530 488)"><circle cx="1" cy="1" r="9"/><text y="5">A</text></g>
<g id="n290" class="g" transform="translate(1535 505)"><circle cx="1" cy="1" r="9"/><text y="5">U</text></g>
<g id="n291" class="g" transform="translate(1541 522)"><circle cx="1" cy="1" r="9"/><text y="5">G</text></g>
<g id="n292" class="w" transform="translate(1545 539)"><circle cx="1" cy="1" r="9"/><text y="5">C</text></g>
<g id="n293" class="l" transform="translate(1548 557)"><circle cx="1" cy="1" r="9"/><text y="5">A</text></g>
<g id="n294" class="g" transform="translate(1551 574)"><circle cx="1" cy="1" r="9"/><text y="5">U</text></g>
<g id="n295" class="g" transform="translate(1553 592)"><circle cx="1" cy="1" r="9"/><text y="5">U</text></g>
<g id="n296" class="g" transform="translate(1555 610)"><circle cx="1" cy="1" r="9"/><text y="5">G</text></g>
<g id="n297" class="p" transform="translate(1556 628)"><circle cx="1" cy="1" r="9"/><text y="5">C</text></g>
<g id="n298" class="p" transform="translate(1556 645)"><circle cx="1" cy="1" r="9"/><text y="5">A</text></g>
<g id="n299" class="p" transform="translate(1555 663)"><circle cx="1" cy="1" r="9"/><text y="5">C</text></g>
<g id="n300" class="o" transform="translate(1554 681)"><circle cx="1" cy="1" r="9"/><text y="5">A</text></g>
<g id="n301" class="g" transform="translate(1553 699)"><circle cx="1" cy="1" r="9"/><text y="5">G</text></g>
<g id="n302" class="r" transform="translate(1551 716)"><circle cx="1" cy="1" r="9"/><text y="5">A</text></g>
<g id="n303" class="g" transform="translate(1548 734)"><circle cx="1" cy="1" r="9"/><text y="5">G</text></g>
<g id="n304" class="o" transform="translate(1544 751)"><circle cx="1" cy="1" r="9"/><text y="5">C</text></g>
<g id="n305" class="g" transform="translate(1540 768)"><circle cx="1" cy="1" r="9"/><text y="5">G</text></g>
<g id="n306" class="g" transform="translate(1535 785)"><circle cx="1" cy="1" r="9"/><text y="5">U</text></g>
<g id="n307" class="p" transform="translate(1529 802)"><circle cx="1" cy="1" r="9"/><text y="5">A</text></g>
<g id="n308" class="g" transform="translate(1523 819)"><circle cx="1" cy="1" r="9"/><text y="5">U</text></g>
<g id="n309" class="g" transform="translate(1516 836)"><circle cx="1" cy="1" r="9"/><text y="5">U</text></g>
<g id="n310" class="r" transform="translate(1509 852)"><circle cx="1" cy="1" r="9"/><text y="5">A</text></g>
<g id="n311" class="g" transform="translate(1501 868)"><circle cx="1" cy="1" r="9"/><text y="5">G</text></g>
<g id="n312" class="g" transform="translate(1493 883)"><circle cx="1" cy="1" r="9"/><text y="5">U</text></g>
<g id="n313" class="g" transform="translate(1484 898)"><circle cx="1" cy="1" r="9"/><text y="5">G</text></g>
<g id="n314" class="g" transform="translate(1474 914)"><circle cx="1" cy="1" r="9"/><text y="5">U</text></g>
<g id="n315" class="p" transform="translate(1464 928)"><circle cx="1" cy="1" r="9"/><text y="5">A</text></g>
<g id="n316" class="g" transform="translate(1453 943)"><circle cx="1" cy="1" r="9"/><text y="5">U</text></g>
<g id="n317" class="p" transform="translate(1442 956)"><circle cx="1" cy="1" r="9"/><text y="5">A</text></g>
<g id="n318" class="l" transform="translate(1431 970)"><circle cx="1" cy="1" r="9"/><text y="5">C</text></g>
<g id="n319" class="g" transform="translate(1418 983)"><circle cx="1" cy="1" r="9"/><text y="5">G</text></g>
<g id="n320" class="o" transform="translate(1406 995)"><circle cx="1" cy="1" r="9"/><text y="5">A</text></g>
<g id="n321" class="g" transform="translate(1393 1007)"><circle cx="1" cy="1" r="9"/><text y="5">G</text></g>
<g id="n322" class="r" transform="translate(1380 1019)"><circle cx="1" cy="1" r="9"/><text y="5">A</text></g>
<g id="n323" class="l" transform="translate(1365 1030)"><circle cx="1" cy="1" r="9"/><text y="5">A</text></g>
<g id="n324" class="g" transform="translate(1353 1043)"><circle cx="1" cy="1" r="9"/><text y="5">U</text></g>
<g id="n325" class="p" transform="translate(1337 1051)"><circle cx="1" cy="1" r="9"/><text y="5">C</text></g>
<g id="n326" class="g" transform="translate(1321 1060)"><circle cx="1" cy="1" r="9"/><text y="5">U</text></g>
<g id="n327" class="l" transform="translate(1306 1069)"><circle cx="1" cy="1" r="9"/><text y="5">A</text></g>
<g id="n328" class="p" transform="translate(1290 1077)"><circle cx="1" cy="1" r="9"/><text y="5">A</text></g>
<g id="n329" class="w" transform="translate(1274 1085)"><circle cx="1" cy="1" r="9"/><text y="5">A</text></g>
<g id="n330" class="l" transform="translate(1258 1092)"><circle cx="1" cy="1" r="9"/><text y="5">A</text></g>
<g id="n331" class="l" transform="translate(1241 1099)"><circle cx="1" cy="1" r="9"/><text y="5">A</text></g>
<g id="n332" class="g" transform="translate(1226 1104)"><circle cx="1" cy="1" r="9"/><text y="5">U</text></g>
<g id="n333" class="g" transform="translate(1207 1111)"><circle cx="1" cy="1" r="9"/><text y="5">U</text></g>
<g id="n334" class="g" transform="translate(1190 1114)"><circle cx="1" cy="1" r="9"/><text y="5">U</text></g>
<g id="n335" class="g" transform="translate(1174 1119)"><circle cx="1" cy="1" r="9"/><text y="5">G</text></g>
<g id="n336" class="r" transform="translate(1157 1123)"><circle cx="1" cy="1" r="9"/><text y="5">A</text></g>
<g id="n337" class="l" transform="translate(1138 1126)"><circle cx="1" cy="1" r="9"/><text y="5">A</text></g>
<g id="n338" class="p" transform="translate(1121 1128)"><circle cx="1" cy="1" r="9"/><text y="5">A</text></g>
<g id="n339" class="l" transform="translate(1104 1128)"><circle cx="1" cy="1" r="9"/><text y="5">C</text></g>
<g id="n340" class="g" transform="translate(1085 1130)"><circle cx="1" cy="1" r="9"/><text y="5">U</text></g>
<g id="n341" class="g" transform="translate(1085 1151)"><circle cx="1" cy="1" r="9"/><text y="5">G</text></g>
<g id="n342" class="g" transform="translate(1085 1171)"><circle cx="1" cy="1" r="9"/><text y="5">G</text></g>
<g id="n343" class="p" transform="translate(1085 1191)"><circle cx="1" cy="1" r="9"/><text y="5">C</text></g>
<g id="n344" class="g" transform="translate(1091 1208)"><circle cx="1" cy="1" r="9"/><text y="5">U</text></g>
<g id="n345" class="l" transform="translate(1085 1224)"><circle cx="1" cy="1" r="9"/><text y="5">C</text></g>
<g id="n346" class="l" transform="translate(1103 1224)"><circle cx="1" cy="1" r="9"/><text y="5">A</text></g>
<g id="n347" class="g" transform="translate(1121 1224)"><circle cx="1" cy="1" r="9"/><text y="5">U</text></g>
<g id="n348" class="l" transform="translate(1139 1224)"><circle cx="1" cy="1" r="9"/><text y="5">A</text></g>
<g id="n349" class="l" transform="translate(1157 1224)"><circle cx="1" cy="1" r="9"/><text y="5">A</text></g>
<g id="n350" class="w" transform="translate(1174 1224)"><circle cx="1" cy="1" r="9"/><text y="5">A</text></g>
<g id="n351" class="l" transform="translate(1192 1224)"><circle cx="1" cy="1" r="9"/><text y="5">A</text></g>
<g id="n352" class="p" transform="translate(1210 1224)"><circle cx="1" cy="1" r="9"/><text y="5">A</text></g>
<g id="n353" class="r" transform="translate(1228 1224)"><circle cx="1" cy="1" r="9"/><text y="5">C</text></g>
<g id="n354" class="l" transform="translate(1245 1224)"><circle cx="1" cy="1" r="9"/><text y="5">A</text></g>
<g id="n355" class="g" transform="translate(1263 1224)"><circle cx="1" cy="1" r="9"/><text y="5">G</text></g>
<g id="n356" class="g" transform="translate(1263 1204)"><circle cx="1" cy="1" r="9"/><text y="5">G</text></g>
<g id="n357" class="p" transform="translate(1262 1183)"><circle cx="1" cy="1" r="9"/><text y="5">A</text></g>
<g id="n358" class="l" transform="translate(1262 1163)"><circle cx="1" cy="1" r="9"/><text y="5">A</text></g>
<g id="n359" class="p" transform="translate(1263 1143)"><circle cx="1" cy="1" r="9"/><text y="5">C</text></g>
<g id="n360" class="g" transform="translate(1246 1137)"><circle cx="1" cy="1" r="9"/><text y="5">U</text></g>
<g id="n361" class="g" transform="translate(1231 1127)"><circle cx="1" cy="1" r="9"/><text y="5">U</text></g>
<g id="n362" class="g" transform="translate(1219 1114)"><circle cx="1" cy="1" r="9"/><text y="5">U</text></g>
<g id="n363" class="g" transform="translate(1210 1098)"><circle cx="1" cy="1" r="9"/><text y="5">U</text></g>
<g id="n364" class="l" transform="translate(1205 1082)"><circle cx="1" cy="1" r="9"/><text y="5">A</text></g>
<g id="n365" class="p" transform="translate(1203 1065)"><circle cx="1" cy="1" r="9"/><text y="5">C</text></g>
<g id="n366" class="g" transform="translate(1206 1047)"><circle cx="1" cy="1" r="9"/><text y="5">U</text></g>
<g id="n367" class="l" transform="translate(1213 1031)"><circle cx="1" cy="1" r="9"/><text y="5">A</text></g>
<g id="n368" class="l" transform="translate(1224 1016)"><circle cx="1" cy="1" r="9"/><text y="5">A</text></g>
<g id="n369" class="p" transform="translate(1237 1004)"><circle cx="1" cy="1" r="9"/><text y="5">C</text></g>
<g id="n370" class="l" transform="translate(1253 997)"><circle cx="1" cy="1" r="9"/><text y="5">A</text></g>
<g id="n371" class="g" transform="translate(1270 993)"><circle cx="1" cy="1" r="9"/><text y="5">G</text></g>
<g id="n372" class="g" transform="translate(1288 993)"><circle cx="1" cy="1" r="9"/><text y="5">U</text></g>
<g id="n373" class="g" transform="translate(1305 997)"><circle cx="1" cy="1" r="9"/><text y="5">U</text></g>
<g id="n374" class="r" transform="translate(1322 1005)"><circle cx="1" cy="1" r="9"/><text y="5">A</text></g>
<g id="n375" class="g" transform="translate(1335 1016)"><circle cx="1" cy="1" r="9"/><text y="5">U</text></g>
<g id="n376" class="g" transform="translate(1347 1031)"><circle cx="1" cy="1" r="9"/><text y="5">G</text></g>
<g id="n377" class="l" transform="translate(1353 1047)"><circle cx="1" cy="1" r="9"/><text y="5">A</text></g>
<g id="n378" class="g" transform="translate(1355 1065)"><circle cx="1" cy="1" r="9"/><text y="5">U</text></g>
<g id="n379" class="g" transform="translate(1354 1082)"><circle cx="1" cy="1" r="9"/><text y="5">U</text></g>
<g id="n380" class="g" transform="translate(1349 1099)"><circle cx="1" cy="1" r="9"/><text y="5">U</text></g>
<g id="n381" class="g" transform="translate(1340 1114)"><circle cx="1" cy="1" r="9"/><text y="5">U</text></g>
<g id="n382" class="g" transform="translate(1327 1127)"><circle cx="1" cy="1" r="9"/><text y="5">U</text></g>
<g id="n383" class="g" transform="translate(1313 1137)"><circle cx="1" cy="1" r="9"/><text y="5">U</text></g>
<g id="n384" class="g" transform="translate(1295 1143)"><circle cx="1" cy="1" r="9"/><text y="5">G</text></g>
<g id="n385" class="g" transform="translate(1295 1163)"><circle cx="1" cy="1" r="9"/><text y="5">U</text></g>
<g id="n386" class="g" transform="translate(1295 1183)"><circle cx="1" cy="1" r="9"/><text y="5">U</text></g>
<g id="n387" class="w" transform="translate(1295 1203)"><circle cx="1" cy="1" r="9"/><text y="5">C</text></g>
<g id="n388" class="w" transform="translate(1295 1224)"><circle cx="1" cy="1" r="9"/><text y="5">C</text></g>
<g id="n389" class="p" transform="translate(1313 1224)"><circle cx="1" cy="1" r="9"/><text y="5">C</text></g>
<g id="n390" class="l" transform="translate(1331 1224)"><circle cx="1" cy="1" r="9"/><text y="5">A</text></g>
<g id="n391" class="g" transform="translate(1349 1224)"><circle cx="1" cy="1" r="9"/><text y="5">U</text></g>
<g id="n392" class="g" transform="translate(1367 1224)"><circle cx="1" cy="1" r="9"/><text y="5">U</text></g>
<g id="n393" class="g" transform="translate(1384 1224)"><circle cx="1" cy="1" r="9"/><text y="5">U</text></g>
<g id="n394" class="g" transform="translate(1403 1224)"><circle cx="1" cy="1" r="9"/><text y="5">U</text></g>
<g id="n395" class="p" transform="translate(1420 1224)"><circle cx="1" cy="1" r="9"/><text y="5">C</text></g>
<g id="n396" class="g" transform="translate(1438 1224)"><circle cx="1" cy="1" r="9"/><text y="5">U</text></g>
<g id="n397" class="g" transform="translate(1456 1224)"><circle cx="1" cy="1" r="9"/><text y="5">U</text></g>
<g id="n398" class="p" transform="translate(1474 1224)"><circle cx="1" cy="1" r="9"/><text y="5">A</text></g>
<g id="n399" class="g" transform="translate(1491 1224)"><circle cx="1" cy="1" r="9"/><text y="5">U</text></g>
<g id="n400" class="l" transform="translate(1508 1224)"><circle cx="1" cy="1" r="9"/><text y="5">C</text></g>
<g id="n401" class="l" transform="translate(1526 1224)"><circle cx="1" cy="1" r="9"/><text y="5">A</text></g>
<g id="n402" class="l" transform="translate(1544 1224)"><circle cx="1" cy="1" r="9"/><text y="5">A</text></g>
<g id="n403" class="g" transform="translate(1562 1224)"><circle cx="1" cy="1" r="9"/><text y="5">U</text></g>
<g id="n404" class="w" transform="translate(1580 1224)"><circle cx="1" cy="1" r="9"/><text y="5">A</text></g>
<g id="n405" class="g" transform="translate(1598 1224)"><circle cx="1" cy="1" r="9"/><text y="5">G</text></g>
</g>
<g id="numbers">
<text class="num" x="661" y="1253">20</text><text class="num" x="1016" y="1253">40</text><text class="num" x="826" y="1156">60</text><text class="num" x="542" y="1064">80</text><text class="num" x="339" y="1289">100</text><text class="num" x="340" y="1135">120</text><text class="num" x="596" y="929">140</text><text class="num" x="219" y="695">160</text><text class="num" x="237" y="321">180</text><text class="num" x="748" y="254">200</text><text class="num" x="892" y="107">220</text><text class="num" x="1129" y="142">240</text><text class="num" x="1253" y="133">260</text><text class="num" x="1473" y="338">280</text><text class="num" x="1577" y="688">300</text><text class="num" x="1421" y="1017">320</text><text class="num" x="1109" y="1135">340</text><text class="num" x="1235" y="1163">360</text><text class="num" x="1370" y="1114">380</text><text class="num" x="1508" y="1253">400</text>
</g>
<g id="percent">
<text class="pct" x="646" y="1178">52%</text><text class="pct" x="915" y="1121">69%</text><text class="pct" x="878" y="1173">69%</text><text class="pct" x="1070" y="1166">37%</text><text class="pct" x="1070" y="1213">32%</text><text class="pct" x="594" y="978">100%</text><text class="pct" x="384" y="1188">95%</text><text class="pct" x="326" y="1249">84%</text><text class="pct" x="1281" y="1177">70%</text><text class="pct" x="777" y="222">38%</text><text class="pct" x="941" y="127">49%</text><text class="pct" x="1204" y="148">89%</text><text class="pct" x="1255" y="82">81%</text>
</g>
<g id="legend">
<rect x="1497" y="1335" width="102" height="24" fill="url(#grad)" stroke="#aaa" stroke-width="1.6"/>
<text class="leg" x="1474" y="1376" style="font-size:18px">-0.01</text><text class="leg" x="1513" y="1376">Reactivity</text><text class="leg" x="1597" y="1376" style="font-size:18px">2</text>
</g>
<text id="title" x="829" y="1421" text-anchor="middle" font-size="41" font-weight="700" style="font-family:'Open Sans','Liberation Sans',sans-serif" textLength="734" lengthAdjust="spacingAndGlyphs">chrIV:217602-218007_VARNA_pred</text>
<rect x="0" y="1432" width="1626" height="2" fill="#e4e4e4"/>
</svg>
